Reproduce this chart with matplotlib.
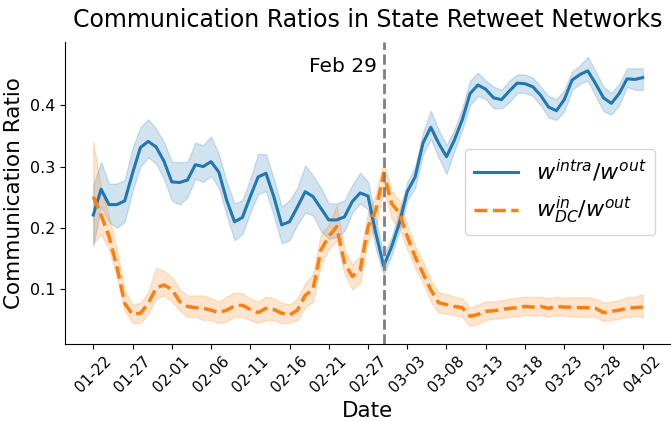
import matplotlib
matplotlib.use("Agg")
import matplotlib.pyplot as plt
import numpy as np
import pandas as pd

# dates (one day between 02-21 and 02-27 is absent in the data)
all_days = pd.date_range("2020-01-22", "2020-04-02", freq="D")
dates = [d.strftime("%m-%d") for d in all_days if d.strftime("%m-%d") != "02-24"]

intra = [0.221, 0.263, 0.238, 0.238, 0.244, 0.289, 0.331, 0.341, 0.332, 0.309,
         0.275, 0.274, 0.278, 0.303, 0.300, 0.308, 0.291, 0.245, 0.210, 0.217,
         0.251, 0.283, 0.289, 0.251, 0.205, 0.210, 0.234, 0.259, 0.251, 0.232,
         0.213, 0.213, 0.218, 0.243, 0.257, 0.252, 0.191, 0.138, 0.169, 0.208,
         0.259, 0.283, 0.338, 0.364, 0.338, 0.316, 0.343, 0.376, 0.419, 0.433,
         0.426, 0.412, 0.409, 0.423, 0.436, 0.435, 0.430, 0.416, 0.397, 0.391,
         0.409, 0.441, 0.450, 0.456, 0.435, 0.412, 0.403, 0.419, 0.443, 0.442,
         0.445]
intra_lo = [0.17, 0.235, 0.21, 0.200, 0.210, 0.26, 0.30, 0.315, 0.305, 0.28,
            0.245, 0.238, 0.25, 0.28, 0.275, 0.285, 0.265, 0.22, 0.18, 0.19,
            0.225, 0.255, 0.26, 0.22, 0.175, 0.18, 0.205, 0.225, 0.22, 0.195,
            0.182, 0.185, 0.195, 0.225, 0.24, 0.23, 0.165, 0.124, 0.155, 0.195,
            0.245, 0.265, 0.32, 0.345, 0.315, 0.288, 0.325, 0.36, 0.40, 0.415,
            0.41, 0.395, 0.395, 0.405, 0.42, 0.42, 0.415, 0.40, 0.38, 0.376,
            0.39, 0.425, 0.435, 0.44, 0.415, 0.39, 0.385, 0.40, 0.43, 0.425,
            0.425]
intra_hi = [0.27, 0.307, 0.272, 0.272, 0.278, 0.33, 0.364, 0.377, 0.362, 0.34,
            0.308, 0.307, 0.308, 0.339, 0.335, 0.349, 0.32, 0.275, 0.24, 0.245,
            0.28, 0.321, 0.32, 0.28, 0.235, 0.245, 0.265, 0.302, 0.285, 0.265,
            0.24, 0.24, 0.245, 0.27, 0.29, 0.275, 0.215, 0.155, 0.185, 0.228,
            0.275, 0.30, 0.355, 0.391, 0.36, 0.335, 0.36, 0.395, 0.44, 0.453,
            0.44, 0.43, 0.425, 0.44, 0.45, 0.45, 0.445, 0.43, 0.415, 0.41,
            0.425, 0.455, 0.465, 0.479, 0.455, 0.43, 0.42, 0.435, 0.46, 0.46,
            0.46]

dc = [0.251, 0.221, 0.186, 0.137, 0.077, 0.059, 0.061, 0.077, 0.102, 0.107,
      0.100, 0.080, 0.072, 0.070, 0.069, 0.066, 0.062, 0.066, 0.073, 0.074,
      0.067, 0.062, 0.069, 0.067, 0.061, 0.058, 0.066, 0.090, 0.100, 0.164,
      0.186, 0.202, 0.143, 0.121, 0.131, 0.202, 0.229, 0.289, 0.240, 0.224,
      0.186, 0.153, 0.126, 0.099, 0.078, 0.075, 0.072, 0.070, 0.056, 0.059,
      0.064, 0.065, 0.067, 0.069, 0.070, 0.072, 0.071, 0.072, 0.069, 0.072,
      0.071, 0.071, 0.070, 0.070, 0.069, 0.062, 0.064, 0.066, 0.069, 0.070,
      0.071]
dc_lo = [0.175, 0.19, 0.165, 0.12, 0.065, 0.045, 0.045, 0.06, 0.085, 0.09,
         0.08, 0.065, 0.055, 0.055, 0.05, 0.05, 0.045, 0.048, 0.055, 0.055,
         0.05, 0.045, 0.05, 0.05, 0.045, 0.045, 0.05, 0.07, 0.08, 0.14,
         0.165, 0.18, 0.125, 0.10, 0.11, 0.18, 0.20, 0.265, 0.215, 0.20,
         0.165, 0.135, 0.11, 0.08, 0.062, 0.06, 0.058, 0.055, 0.04, 0.043,
         0.05, 0.052, 0.053, 0.055, 0.056, 0.058, 0.057, 0.058, 0.055, 0.058,
         0.057, 0.056, 0.055, 0.055, 0.055, 0.048, 0.05, 0.052, 0.055, 0.056,
         0.055]
dc_hi = [0.34, 0.265, 0.22, 0.165, 0.10, 0.075, 0.078, 0.095, 0.135, 0.13,
         0.12, 0.10, 0.09, 0.09, 0.09, 0.085, 0.08, 0.088, 0.095, 0.093,
         0.085, 0.08, 0.088, 0.085, 0.078, 0.075, 0.085, 0.11, 0.125, 0.19,
         0.205, 0.237, 0.165, 0.14, 0.155, 0.225, 0.255, 0.31, 0.26, 0.245,
         0.205, 0.17, 0.145, 0.115, 0.095, 0.092, 0.088, 0.085, 0.07, 0.075,
         0.08, 0.08, 0.082, 0.085, 0.086, 0.088, 0.087, 0.088, 0.085, 0.088,
         0.086, 0.087, 0.087, 0.087, 0.085, 0.078, 0.08, 0.082, 0.087, 0.088,
         0.092]

event_date = "02-29"
event_label = "Feb 29"

x = np.arange(len(dates))
blue = "#1f77b4"
orange = "#ff7f0e"

fig = plt.figure(figsize=(6.71, 4.21), dpi=100)
ax = fig.add_axes([65 / 671, 77 / 421, (671 - 65) / 671, (344 - 42) / 421])

ax.fill_between(x, intra_lo, intra_hi, color=blue, alpha=0.2)
ax.plot(x, intra, color=blue, lw=2.2, label=r"$w^{intra}/w^{out}$")
ax.fill_between(x, dc_lo, dc_hi, color=orange, alpha=0.2)
ax.plot(x, dc, color=orange, lw=2.5, ls="--", label=r"$w^{in}_{DC}/w^{out}$")

ex = dates.index(event_date)
ax.axvline(ex, color="gray", ls="--", lw=2)
ax.text(ex - 0.9, 0.463, event_label, ha="right", va="center", fontsize=14.5)

ax.set_xlim(-3.6, 73.6)
ax.set_ylim(0.0108, 0.503)
ax.set_xticks(x[::5])
ax.set_xticklabels(dates[::5], rotation=45, fontsize=11)
ax.set_yticks([0.1, 0.2, 0.3, 0.4])
ax.set_yticklabels(["0.1", "0.2", "0.3", "0.4"], fontsize=11.5)
ax.set_xlabel("Date", fontsize=15.5)
ax.set_ylabel("Communication Ratio", fontsize=15.5)
ax.set_title("Communication Ratios in State Retweet Networks", fontsize=17, pad=11)
for s in ["top", "right"]:
    ax.spines[s].set_visible(False)

ax.legend(loc="center", fontsize=16, bbox_to_anchor=(0.817, 0.503))

fig.savefig("out.png", dpi=100)
